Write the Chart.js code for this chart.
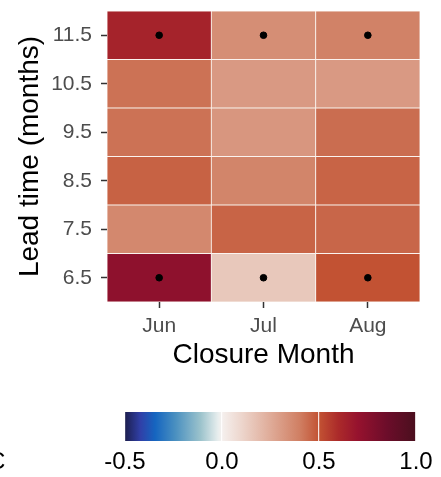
<!DOCTYPE html>
<html lang="en">

<head>
    <meta charset="UTF-8">
    <title>Lead time vs closure month</title>
    <script src="https://cdn.jsdelivr.net/npm/chart.js"></script>
    <style>
        html, body { margin: 0; padding: 0; background: #fff; }
        #wrap { position: relative; width: 441px; height: 477px; overflow: hidden; }
        #heatChart { position: absolute; left: 0; top: 0; }
        #barChart { position: absolute; left: 0; top: 395px; }
    </style>
</head>

<body>
    <div id="wrap">
        <canvas id="heatChart" width="441" height="390"></canvas>
        <canvas id="barChart" width="441" height="82"></canvas>
    </div>

    <script>
        // categories
        const months = ['Jun', 'Jul', 'Aug'];
        const leadTimes = [6.5, 7.5, 8.5, 9.5, 10.5, 11.5];

        // correlation per lead time row (Jun, Jul, Aug)
        const row65 = [0.73, 0.15, 0.50];
        const row75 = [0.37, 0.46, 0.455];
        const row85 = [0.465, 0.38, 0.46];
        const row95 = [0.43, 0.32, 0.44];
        const row105 = [0.43, 0.31, 0.31];
        const row115 = [0.63, 0.35, 0.39];
        const rows = [row65, row75, row85, row95, row105, row115];

        // significant cells (dots)
        const sigMonths = ['Jun', 'Jul', 'Aug', 'Jun', 'Jul', 'Aug'];
        const sigLeads = [11.5, 11.5, 11.5, 6.5, 6.5, 6.5];

        // colour bar
        const barTicks = [-0.5, 0.0, 0.5, 1.0];
        const stopValues = [-0.5, -0.42, -0.345, -0.24, -0.11, -0.02, 0, 0.1, 0.25, 0.4, 0.5, 0.6, 0.7, 0.85, 1.0];
        const stopColors = ['#1d1f4f', '#3040a8', '#1565c0', '#4a90c0', '#9cc3cc', '#e8eeee', '#f5f0ee', '#edd6cd',
            '#dfab98', '#d07f63', '#c25233', '#ab2a2a', '#96122e', '#6c0d2a', '#4a0f1e'];

        function hexToRgb(h) {
            return [parseInt(h.slice(1, 3), 16), parseInt(h.slice(3, 5), 16), parseInt(h.slice(5, 7), 16)];
        }

        function colorFor(v) {
            if (v <= stopValues[0]) return stopColors[0];
            for (let i = 1; i < stopValues.length; i++) {
                if (v <= stopValues[i]) {
                    const t = (v - stopValues[i - 1]) / (stopValues[i] - stopValues[i - 1]);
                    const a = hexToRgb(stopColors[i - 1]);
                    const b = hexToRgb(stopColors[i]);
                    const c = a.map((x, k) => Math.round(x + (b[k] - x) * t));
                    return 'rgb(' + c.join(',') + ')';
                }
            }
            return stopColors[stopColors.length - 1];
        }

        const tickFont = { family: 'Liberation Sans, Arial, sans-serif', size: 21 };
        const titleFont = { family: 'Liberation Sans, Arial, sans-serif', size: 28 };

        // one floating-bar dataset per lead time row
        const tileSets = rows.map((vals, i) => ({
            type: 'bar',
            data: months.map(() => [leadTimes[i] - 0.5, leadTimes[i] + 0.5]),
            backgroundColor: vals.map(colorFor),
            borderColor: 'rgba(250,240,235,0.95)',
            borderWidth: 0.8,
            borderSkipped: false,
            barPercentage: 1,
            categoryPercentage: 1,
            grouped: false,
            order: 2
        }));

        const dotSet = {
            type: 'scatter',
            data: sigMonths.map((m, i) => ({ x: m, y: sigLeads[i] })),
            backgroundColor: '#000',
            borderColor: '#000',
            pointRadius: 3.3,
            order: 1
        };

        new Chart(document.getElementById('heatChart'), {
            type: 'bar',
            data: { labels: months, datasets: [...tileSets, dotSet] },
            options: {
                responsive: false,
                animation: false,
                layout: { padding: { left: 0, right: 21, top: 11, bottom: 0 } },
                plugins: { legend: { display: false }, tooltip: { enabled: false } },
                scales: {
                    x: {
                        type: 'category',
                        offset: true,
                        grid: { offset: false, drawOnChartArea: false, tickLength: 6, color: '#333', tickWidth: 1.5 },
                        border: { display: false },
                        ticks: { font: tickFont, color: '#4d4d4d', padding: 6 },
                        title: { display: true, text: 'Closure Month', font: titleFont, color: '#000', padding: { bottom: 18 } },
                        afterFit: scale => { scale.height = 88; scale.paddingLeft = 0; scale.paddingRight = 0; }
                    },
                    y: {
                        type: 'linear',
                        min: 6,
                        max: 12,
                        afterBuildTicks: scale => { scale.ticks = leadTimes.map(v => ({ value: v })); },
                        grid: { drawOnChartArea: false, tickLength: 6, color: '#333', tickWidth: 1.5 },
                        border: { display: false },
                        ticks: { font: tickFont, color: '#4d4d4d', padding: 9, callback: v => v.toFixed(1) },
                        title: { display: true, text: 'Lead time (months)', font: titleFont, color: '#000', padding: { top: 13 } },
                        afterFit: scale => { scale.width = 107; scale.paddingTop = 0; scale.paddingBottom = 0; }
                    }
                }
            }
        });

        // colour bar legend
        const cutLabel = {
            id: 'cutLabel',
            afterDraw(chart) {
                const c = chart.ctx;
                c.save();
                c.font = '24px Liberation Sans, Arial, sans-serif';
                c.fillStyle = '#000';
                c.textBaseline = 'middle';
                c.fillText('C', -12, 67);
                c.restore();
            }
        };

        new Chart(document.getElementById('barChart'), {
            type: 'bar',
            data: {
                labels: ['r'],
                datasets: [{
                    data: [[barTicks[0], barTicks[barTicks.length - 1]]],
                    backgroundColor: ctx => {
                        const chart = ctx.chart;
                        if (!chart.chartArea) return '#ccc';
                        const xs = chart.scales.x;
                        const x0 = xs.getPixelForValue(stopValues[0]);
                        const x1 = xs.getPixelForValue(stopValues[stopValues.length - 1]);
                        const g = chart.ctx.createLinearGradient(x0, 0, x1, 0);
                        stopValues.forEach((v, i) => {
                            g.addColorStop((v - stopValues[0]) / (stopValues[stopValues.length - 1] - stopValues[0]), stopColors[i]);
                        });
                        return g;
                    },
                    borderWidth: 0,
                    barPercentage: 1,
                    categoryPercentage: 1
                }]
            },
            options: {
                indexAxis: 'y',
                responsive: false,
                animation: false,
                layout: { padding: { left: 125, right: 25, top: 17, bottom: 0 } },
                plugins: { legend: { display: false }, tooltip: { enabled: false } },
                scales: {
                    x: {
                        type: 'linear',
                        min: -0.5,
                        max: 1.0,
                        afterBuildTicks: scale => { scale.ticks = barTicks.map(v => ({ value: v })); },
                        grid: { drawOnChartArea: true, drawTicks: false, color: 'rgba(255,255,255,0.85)', lineWidth: 1.2, z: 1 },
                        border: { display: false },
                        ticks: { font: { family: 'Liberation Sans, Arial, sans-serif', size: 24 }, color: '#000', padding: 7, callback: v => v.toFixed(1) },
                        afterFit: scale => { scale.height = 36; }
                    },
                    y: { display: false }
                }
            },
            plugins: [cutLabel]
        });
    </script>
</body>

</html>
